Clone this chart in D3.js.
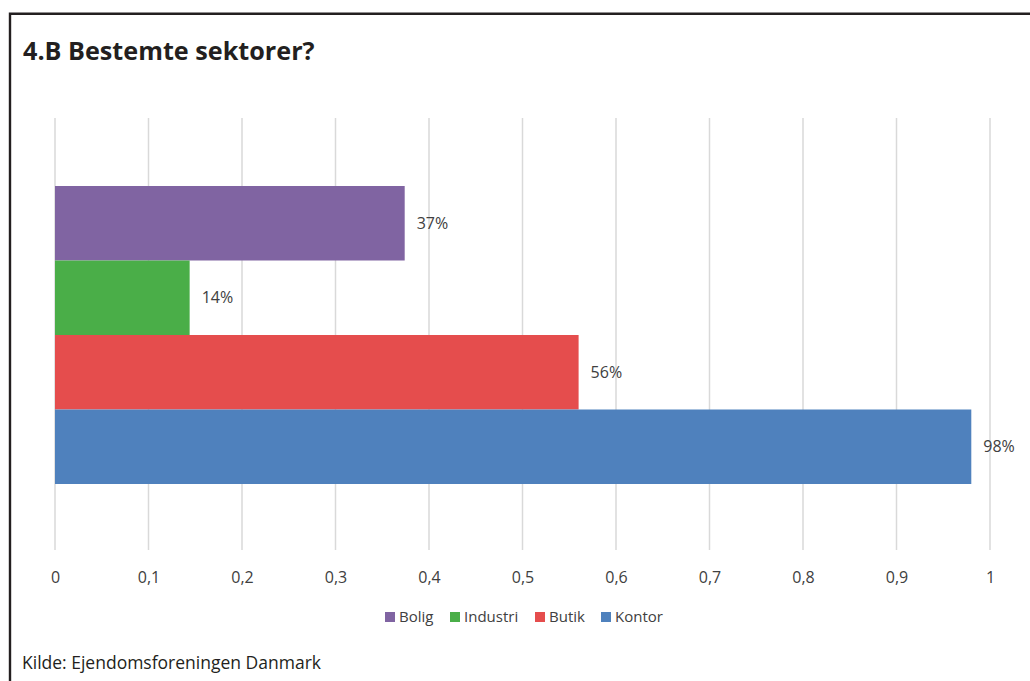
<!DOCTYPE html>
<html>
<head>
<meta charset="utf-8">
<script src="https://cdn.jsdelivr.net/npm/d3@7"></script>
<style>
  html, body { margin: 0; padding: 0; background: #fff; }
  svg { display: block; }
  text { font-family: "Open Sans", "Noto Sans", sans-serif; }
</style>
</head>
<body>
<svg id="chart" width="1030" height="681"></svg>
<script>
// Sector shares (fractions of respondents)
const sectors = ["Bolig", "Industri", "Butik", "Kontor"];
const shares = [0.374, 0.144, 0.56, 0.98];
const colors = ["#8064a2", "#4aae48", "#e54d4d", "#4f81bd"];
const xTicks = [0, 0.1, 0.2, 0.3, 0.4, 0.5, 0.6, 0.7, 0.8, 0.9, 1];
const title = "4.B Bestemte sektorer?";
const source = "Kilde: Ejendomsforeningen Danmark";

const svg = d3.select("#chart");
const W = 1030, H = 681;

// frame (left and top edges)
svg.append("path")
  .attr("d", `M10,${H} L10,13.8 L${W},13.8`)
  .attr("fill", "none")
  .attr("stroke", "#231f20")
  .attr("stroke-width", 2.4);

svg.append("text")
  .attr("x", 23).attr("y", 60)
  .attr("font-size", 25.2).attr("font-weight", 700)
  .attr("fill", "#231f20")
  .text(title);

const plot = { left: 55, right: 990, top: 118, bottom: 550 };

const x = d3.scaleLinear().domain([0, 1]).range([plot.left, plot.right]);
const y = d3.scaleBand().domain(sectors)
  .range([186, 484]).paddingInner(0).paddingOuter(0);

// vertical gridlines
svg.append("g").selectAll("line").data(xTicks).join("line")
  .attr("x1", d => x(d)).attr("x2", d => x(d))
  .attr("y1", plot.top).attr("y2", plot.bottom)
  .attr("stroke", "#d9d9d9").attr("stroke-width", 1.5);

// tick labels
const fmtTick = v => String(v).replace(".", ",");
const axis = d3.axisBottom(x).tickValues(xTicks).tickFormat(fmtTick).tickSize(0).tickPadding(0);
const gAxis = svg.append("g").attr("transform", `translate(0,${plot.bottom})`).call(axis);
gAxis.select(".domain").remove();
gAxis.selectAll("text")
  .attr("y", 27).attr("dy", "0.35em")
  .attr("font-family", "\"Open Sans\", sans-serif")
  .attr("font-size", 16).attr("fill", "#404040");

// bars
const data = sectors.map((s, i) => ({ s, v: shares[i], c: colors[i] }));
svg.append("g").selectAll("rect").data(data).join("rect")
  .attr("x", x(0)).attr("y", d => y(d.s))
  .attr("width", d => x(d.v) - x(0))
  .attr("height", y.bandwidth())
  .attr("fill", d => d.c);

// value labels
const pct = d3.format(".0%");
svg.append("g").selectAll("text").data(data).join("text")
  .attr("x", d => x(d.v) + 12)
  .attr("y", d => y(d.s) + y.bandwidth() / 2)
  .attr("dy", "0.35em")
  .attr("font-size", 16).attr("fill", "#404040")
  .text(d => pct(d.v));

// legend
const legendX = [385, 450, 535, 601];
const lg = svg.append("g").selectAll("g").data(data).join("g")
  .attr("transform", (d, i) => `translate(${legendX[i]},617)`);
lg.append("rect").attr("x", 0).attr("y", -5).attr("width", 10).attr("height", 10)
  .attr("fill", d => d.c);
lg.append("text").attr("x", 14).attr("y", 0).attr("dy", "0.35em")
  .attr("font-size", 15).attr("fill", "#404040")
  .text(d => d.s);

svg.append("text")
  .attr("x", 22).attr("y", 663).attr("dy", "0.35em")
  .attr("font-size", 17.5).attr("fill", "#231f20")
  .text(source);
</script>
</body>
</html>
